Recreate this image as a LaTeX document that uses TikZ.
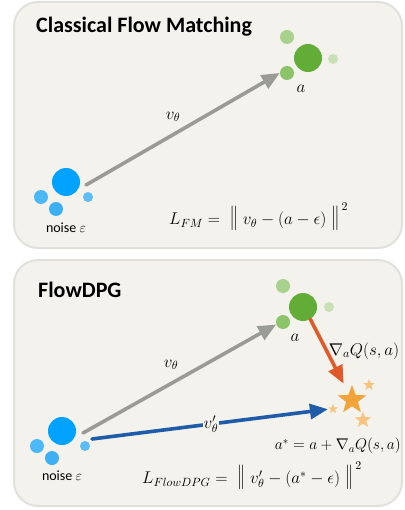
\RequirePackage{fix-cm}
\documentclass[tikz,border=0pt]{standalone}
\usepackage{fontspec}
\setmainfont{Liberation Serif}
\newfontfamily\calibri{Carlito}
\usetikzlibrary{arrows.meta,shapes.geometric}
\definecolor{panelbg}{HTML}{F3F2EC}
\definecolor{panelline}{HTML}{E1E1DC}
\definecolor{greenbig}{HTML}{62AD38}
\definecolor{greenA}{HTML}{A9D18E}
\definecolor{greenB}{HTML}{8CC46A}
\definecolor{greenC}{HTML}{C7E1B5}
\definecolor{bluebig}{HTML}{00A2FF}
\definecolor{blueA}{HTML}{4DB8F7}
\definecolor{blueB}{HTML}{3DB0F4}
\definecolor{blueC}{HTML}{5BBCF6}
\definecolor{flowgray}{HTML}{9B9B95}
\definecolor{flowblue}{HTML}{1E5BA8}
\definecolor{floworange}{HTML}{DF5A2B}
\definecolor{starbig}{HTML}{F2A43A}
\definecolor{starsmall}{HTML}{F7C37E}
\newcommand{\tallbar}{\mathord{\scalebox{1}[1.45]{$\|$}}}
\newcommand{\lossnorm}[1]{\;\tallbar\; #1\;\tallbar}

\begin{document}
\begin{tikzpicture}[x=1pt,y=-1pt,>={Triangle[length=18pt,width=15pt]}]
\tikzstyle{panel}=[rounded corners=24pt, fill=panelbg, draw=panelline, line width=2pt]
\tikzstyle{dot}=[circle, draw=none, inner sep=0pt]
\tikzstyle{starmark}=[star, star points=5, star point ratio=2.4, draw=none, inner sep=0pt]
\tikzstyle{flow}=[line width=3.6pt, line cap=round, ->]
\tikzstyle{mathlabel}=[font=\fontsize{17}{20}\selectfont, inner sep=1pt]
\tikzstyle{paneltitle}=[font=\calibri\bfseries\fontsize{22}{26}\selectfont, anchor=west, inner sep=0pt]
\tikzstyle{noiselabel}=[font=\calibri\fontsize{14}{16}\selectfont, inner sep=0pt]

\useasboundingbox (0,0) rectangle (404,510);

% Panel A
\begin{scope}
  \draw[panel] (14,2) rectangle (402,248);
  \node[paneltitle] (titlefm) at (36,27) {Classical Flow Matching};
  \node[dot, fill=greenbig, minimum size=28pt] (fmg1) at (308,58) {};
  \node[dot, fill=greenA, minimum size=14pt] (fmg2) at (287,37) {};
  \node[dot, fill=greenB, minimum size=14pt] (fmg3) at (287,73) {};
  \node[dot, fill=greenC, minimum size=10pt] (fmg4) at (333,59) {};
  \node[mathlabel] (fma) at (301,89) {$a$};
  \node[dot, fill=bluebig, minimum size=28pt] (fmb1) at (66,182) {};
  \node[dot, fill=blueA, minimum size=14pt] (fmb2) at (41,197) {};
  \node[dot, fill=blueB, minimum size=14pt] (fmb3) at (56,209) {};
  \node[dot, fill=blueC, minimum size=10pt] (fmb4) at (88,197) {};
  \node[noiselabel] (fmnoise) at (66,228) {noise $\varepsilon$};
  \coordinate (fmstart) at (86,185);
  \draw[flow, draw=flowgray, fill=flowgray] (fmstart) -- (fmg3.west);
  \node[mathlabel] (fmv) at (173,117) {$v_\theta$};
  \node[mathlabel, anchor=west] (fmloss) at (168,217)
    {$L_{FM} = \lossnorm{v_\theta - (a - \epsilon)}^{\,2}$};
\end{scope}

% Panel B
\begin{scope}
  \draw[panel] (14,260) rectangle (402,506);
  \node[paneltitle] (titledpg) at (38,290) {FlowDPG};
  \node[dot, fill=greenbig, minimum size=28pt] (dpgg1) at (303,307) {};
  \node[dot, fill=greenA, minimum size=14pt] (dpgg2) at (283,286) {};
  \node[dot, fill=greenB, minimum size=14pt] (dpgg3) at (283,322) {};
  \node[dot, fill=greenC, minimum size=10pt] (dpgg4) at (329,307) {};
  \node[mathlabel] (dpga) at (295,338) {$a$};
  \node[dot, fill=bluebig, minimum size=28pt] (dpgb1) at (62,431) {};
  \node[dot, fill=blueA, minimum size=14pt] (dpgb2) at (37,446) {};
  \node[dot, fill=blueB, minimum size=14pt] (dpgb3) at (52,458) {};
  \node[dot, fill=blueC, minimum size=10pt] (dpgb4) at (85,446) {};
  \node[noiselabel] (dpgnoise) at (62,476) {noise $\varepsilon$};
  \node[starmark, fill=starbig, minimum size=30pt] (astar) at (352,400) {};
  \node[starmark, fill=starsmall, minimum size=12pt] (astar2) at (369,385) {};
  \node[starmark, fill=starsmall, minimum size=10pt] (astar3) at (333,409) {};
  \node[starmark, fill=starsmall, minimum size=17pt] (astar4) at (363,420) {};
  \coordinate (dpgstart) at (83,433);
  \coordinate (dpgstart2) at (92,439);
  \draw[flow, draw=flowgray, fill=flowgray] (dpgstart) -- (dpgg3.200);
  \draw[flow, draw=flowblue, fill=flowblue, shorten >=2pt] (dpgstart2) -- (astar3.west)
    node[mathlabel, midway, fill=panelbg] (dpgvp) {$v'_\theta$};
  \draw[flow, draw=floworange, fill=floworange, shorten >=11pt] (dpgg1.-59) -- (astar);
  \node[mathlabel] (dpgv) at (171,365) {$v_\theta$};
  \node[mathlabel] (dpggrad) at (364,351) {$\nabla_a Q(s,a)$};
  \node[mathlabel, anchor=east, font=\fontsize{15.5}{18}\selectfont] (dpgtarget) at (402,446)
    {$a^{*} = a + \nabla_a Q(s,a)$};
  \node[mathlabel, anchor=west] (dpgloss) at (141,476)
    {$L_{FlowDPG} = \lossnorm{v'_\theta - (a^{*} - \epsilon)}^{\,2}$};
\end{scope}
\end{tikzpicture}
\end{document}
